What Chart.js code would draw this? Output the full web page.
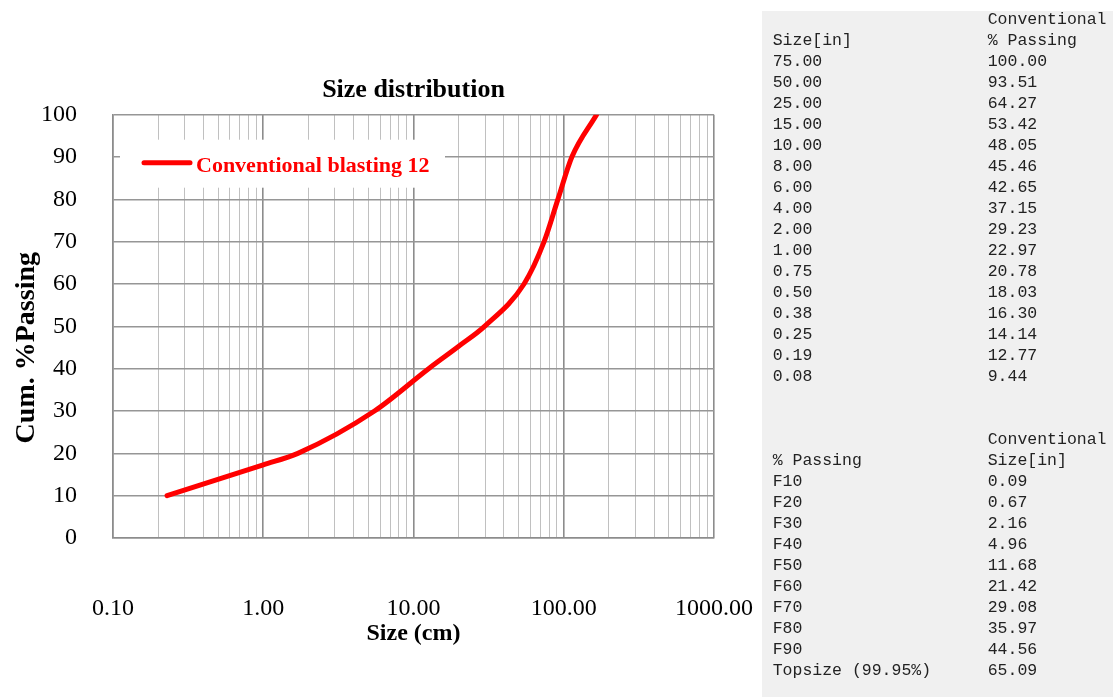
<!DOCTYPE html>
<html>
<head>
<meta charset="utf-8">
<script src="https://cdn.jsdelivr.net/npm/chart.js@4/dist/chart.umd.min.js"></script>
<style>
  html, body { margin: 0; padding: 0; background: #ffffff; }
  body { width: 1119px; height: 697px; position: relative; overflow: hidden; }
  #c { position: absolute; left: 0; top: 0; }
  #panel { position: absolute; left: 762px; top: 11px; width: 351px; height: 686px; background: #f0f0f0; }
  #panel .ln { position: absolute; height: 21px; line-height: 21px; font-family: 'Liberation Mono', 'DejaVu Sans Mono', monospace; font-size: 16.5px; color: #222; white-space: pre; }
</style>
</head>
<body>
<canvas id="c" width="1119" height="697"></canvas>
<div id="panel"></div>
<script>
// Cumulative passing curve (size in cm, cumulative % passing)
const sizeCm     = [0.229, 1.0, 1.70, 5.5, 12.6, 20.0, 29.7, 54.4, 74.0, 91.4, 113.2, 165.3];
const cumPassing = [10.0, 17.3, 20.0, 30.0, 40.0, 45.3, 50.0, 60.0, 70.0, 80.0, 90.0, 100.0];
const seriesName = 'Conventional blasting 12';

// Axis decades and their labels
const xDecades    = [0.1, 1, 10, 100, 1000];
const xTickLabels = ['0.10', '1.00', '10.00', '100.00', '1000.00'];
const yTicks      = [0, 10, 20, 30, 40, 50, 60, 70, 80, 90, 100];

// Size table (inches) shown beside the chart
const tableSizeIn   = ['75.00', '50.00', '25.00', '15.00', '10.00', '8.00', '6.00', '4.00', '2.00', '1.00', '0.75', '0.50', '0.38', '0.25', '0.19', '0.08'];
const tablePassing  = ['100.00', '93.51', '64.27', '53.42', '48.05', '45.46', '42.65', '37.15', '29.23', '22.97', '20.78', '18.03', '16.30', '14.14', '12.77', '9.44'];
const fLabels       = ['F10', 'F20', 'F30', 'F40', 'F50', 'F60', 'F70', 'F80', 'F90', 'Topsize (99.95%)'];
const fSizeIn       = ['0.09', '0.67', '2.16', '4.96', '11.68', '21.42', '29.08', '35.97', '44.56', '65.09'];

// ---- side table ----
(function buildPanel() {
  const panel = document.getElementById('panel');
  const rows = [];
  rows.push(['', 'Conventional']);
  rows.push(['Size[in]', '% Passing']);
  tableSizeIn.forEach((s, i) => rows.push([s, tablePassing[i]]));
  rows.push(['', '']);
  rows.push(['', '']);
  rows.push(['', 'Conventional']);
  rows.push(['% Passing', 'Size[in]']);
  fLabels.forEach((f, i) => rows.push([f, fSizeIn[i]]));
  rows.forEach((r, i) => {
    const top = -2.5 + 21 * i;
    [[r[0], 10.7], [r[1], 225.7]].forEach(([txt, left]) => {
      if (!txt) return;
      const d = document.createElement('div');
      d.className = 'ln';
      d.style.top = top + 'px';
      d.style.left = left + 'px';
      d.textContent = txt;
      panel.appendChild(d);
    });
  });
})();

// ---- chart ----
const serif = "'Liberation Serif', 'Times New Roman', serif";
const isDecade = v => xDecades.some(d => Math.abs(v - d) < d * 1e-6);

// legend drawn inside the plot on a white box
const innerLegend = {
  id: 'innerLegend',
  beforeDatasetsDraw(chart) {
    const { ctx, chartArea } = chart;
    const ds = chart.data.datasets[0];
    ctx.save();
    const bx = chartArea.left + 7, by = chartArea.top + 25;
    ctx.fillStyle = '#ffffff';
    ctx.fillRect(bx, by, 325, 48);
    const ly = by + 23;
    ctx.strokeStyle = ds.borderColor;
    ctx.lineWidth = 5;
    ctx.lineCap = 'round';
    ctx.beginPath();
    ctx.moveTo(bx + 24, ly);
    ctx.lineTo(bx + 70, ly);
    ctx.stroke();
    ctx.fillStyle = ds.borderColor;
    ctx.font = 'bold 22px ' + serif;
    ctx.textBaseline = 'alphabetic';
    ctx.textAlign = 'left';
    ctx.fillText(ds.label, bx + 76, ly + 9);
    ctx.restore();
  }
};

// rotated y-axis title
const yTitle = {
  id: 'yTitle',
  afterDraw(chart) {
    const { ctx, chartArea } = chart;
    ctx.save();
    ctx.translate(27, chartArea.top + 233);
    ctx.rotate(-Math.PI / 2);
    ctx.font = 'bold 28px ' + serif;
    ctx.fillStyle = '#000';
    ctx.textAlign = 'center';
    ctx.textBaseline = 'middle';
    ctx.fillText('Cum. %Passing', 0, 0);
    ctx.restore();
  }
};

new Chart(document.getElementById('c').getContext('2d'), {
  type: 'line',
  data: {
    datasets: [{
      label: seriesName,
      data: sizeCm.map((x, i) => ({ x, y: cumPassing[i] })),
      borderColor: '#ff0000',
      borderWidth: 5,
      borderCapStyle: 'round',
      borderJoinStyle: 'round',
      pointRadius: 0,
      cubicInterpolationMode: 'monotone',
      fill: false
    }]
  },
  options: {
    responsive: false,
    animation: false,
    devicePixelRatio: 1,
    layout: { padding: { top: 74.5, right: 405, left: 0, bottom: 0 } },
    plugins: {
      legend: { display: false },
      tooltip: { enabled: false },
      title: {
        display: true,
        fullSize: false,
        text: 'Size distribution',
        color: '#000',
        font: { family: serif, size: 26, weight: 'bold' },
        padding: { top: 0, bottom: 9 }
      }
    },
    scales: {
      x: {
        type: 'logarithmic',
        min: xDecades[0],
        max: xDecades[xDecades.length - 1],
        afterBuildTicks(scale) {
          const t = [];
          for (let d = 0; d < xDecades.length - 1; d++) {
            for (let m = 1; m < 10; m++) t.push({ value: +(xDecades[d] * m).toPrecision(6) });
          }
          t.push({ value: xDecades[xDecades.length - 1] });
          scale.ticks = t;
        },
        afterFit(scale) { scale.height = 159; },
        grid: {
          drawTicks: false,
          color: c => (c.tick && isDecade(c.tick.value)) ? '#8c8c8c' : '#c0c0c0',
          lineWidth: c => (c.tick && isDecade(c.tick.value)) ? 1.6 : 1
        },
        border: { color: '#8c8c8c', width: 1.5 },
        ticks: {
          autoSkip: false,
          maxRotation: 0,
          minRotation: 0,
          padding: 56,
          color: '#000',
          font: { family: serif, size: 24 },
          callback: v => {
            const i = xDecades.findIndex(d => Math.abs(v - d) < d * 1e-6);
            return i >= 0 ? xTickLabels[i] : '';
          }
        },
        title: {
          display: true,
          text: 'Size (cm)',
          color: '#000',
          font: { family: serif, size: 24, weight: 'bold' },
          padding: { top: 0, bottom: 49 }
        }
      },
      y: {
        min: yTicks[0],
        max: yTicks[yTicks.length - 1],
        afterBuildTicks(scale) { scale.ticks = yTicks.map(v => ({ value: v })); },
        afterFit(scale) { scale.width = 113; },
        grid: { drawTicks: false, color: '#969696', lineWidth: 1.4 },
        border: { color: '#8c8c8c', width: 1.5 },
        ticks: {
          padding: 36,
          color: '#000',
          font: { family: serif, size: 24 },
          callback: v => String(v)
        }
      }
    }
  },
  plugins: [innerLegend, yTitle]
});
</script>
</body>
</html>
